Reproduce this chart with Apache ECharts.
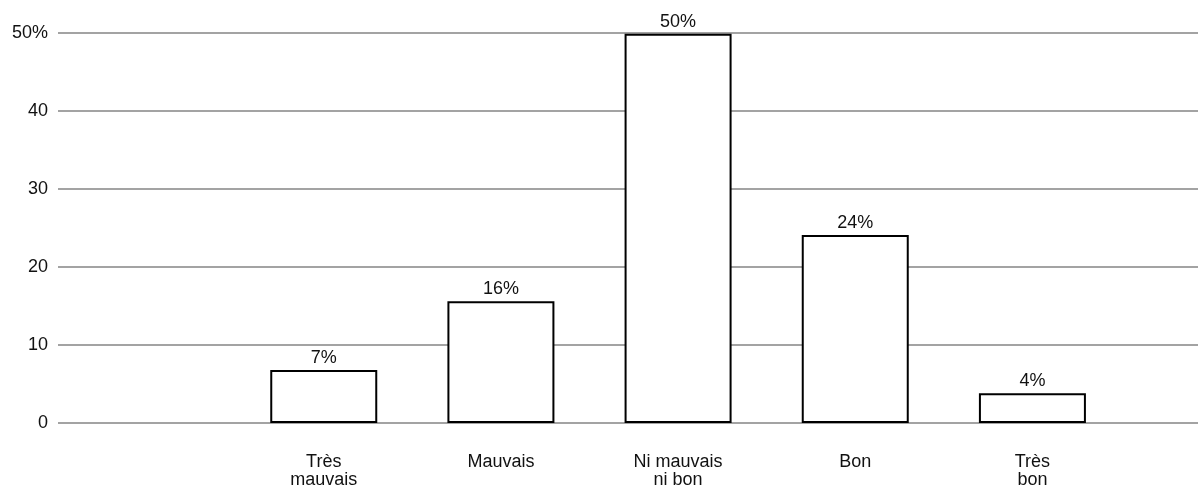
<!DOCTYPE html>
<html><head><meta charset="utf-8">
<script src="https://cdn.jsdelivr.net/npm/echarts@6/dist/echarts.min.js"></script>
<style>html,body{margin:0;padding:0;background:#fff}#c{width:1198px;height:489px}</style>
</head><body><div id="c"></div>
<script>
const categories = ['', 'Très\nmauvais', 'Mauvais', 'Ni mauvais\nni bon', 'Bon', 'Très\nbon'];
const values = [null, 6.8, 15.6, 49.9, 24.1, 3.8];
const valueLabels = ['', '7%', '16%', '50%', '24%', '4%'];
const yTicks = [0, 10, 20, 30, 40, 50];

const font = '"Liberation Sans", Arial, Helvetica, sans-serif';
const chart = echarts.init(document.getElementById('c'), null, {renderer: 'canvas'});
const gridTop = 33, gridBottom = 66;
chart.setOption({
  animation: false,
  grid: [
    {left: 58, right: 0, top: gridTop, bottom: gridBottom},
    {left: 58, right: 77, top: gridTop, bottom: gridBottom}
  ],
  xAxis: [
    {type: 'category', gridIndex: 0, data: categories, show: false},
    {type: 'category', gridIndex: 1, data: categories,
     axisLine: {show: false}, axisTick: {show: false},
     axisLabel: {color: '#111', fontFamily: font, fontSize: 18, lineHeight: 18, margin: 30, interval: 0}}
  ],
  yAxis: [
    {type: 'value', gridIndex: 0, min: yTicks[0], max: yTicks[yTicks.length - 1], interval: 10,
     axisLine: {show: false}, axisTick: {show: false},
     axisLabel: {color: '#111', fontFamily: font, fontSize: 18, margin: 10,
       formatter: v => v === 50 ? v + '%' : String(v)},
     splitLine: {lineStyle: {color: '#858585', width: 1.5}}},
    {type: 'value', gridIndex: 1, min: yTicks[0], max: yTicks[yTicks.length - 1], interval: 10, show: false, splitLine: {show: false}}
  ],
  series: [{
    type: 'bar', xAxisIndex: 1, yAxisIndex: 1,
    data: values, barWidth: 107,
    itemStyle: {color: '#fff', borderColor: '#000', borderWidth: 2},
    label: {show: true, position: 'top', distance: 3, color: '#111', fontFamily: font, fontSize: 18,
      formatter: p => valueLabels[p.dataIndex]}
  }]
});
</script></body></html>
